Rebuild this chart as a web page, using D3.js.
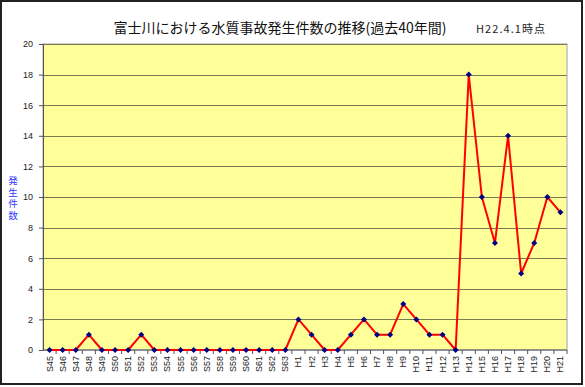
<!DOCTYPE html>
<html>
<head>
<meta charset="utf-8">
<script src="https://cdn.jsdelivr.net/npm/d3@7"></script>
<style>
  body { margin: 0; background: #fff; }
  svg { display: block; }
</style>
</head>
<body>
<script>
// categories: S45..S63, H1..H21 (40 years)
const years = [
  "S45","S46","S47","S48","S49","S50","S51","S52","S53","S54",
  "S55","S56","S57","S58","S59","S60","S61","S62","S63",
  "H1","H2","H3","H4","H5","H6","H7","H8","H9","H10",
  "H11","H12","H13","H14","H15","H16","H17","H18","H19","H20","H21"
];
const counts = [
  0,0,0,1,0,0,0,1,0,0,
  0,0,0,0,0,0,0,0,0,
  2,1,0,0,1,2,1,1,3,2,
  1,1,0,18,10,7,14,5,7,10,9
];
const yTicks = [0,2,4,6,8,10,12,14,16,18,20];
const yLabelChars = ["発","生","件","数"];

const dimensions = {
  width: 585,
  height: 387,
  margin: { top: 44, right: 18, bottom: 37, left: 43 },
};
dimensions.boundedWidth = dimensions.width - dimensions.margin.left - dimensions.margin.right;
dimensions.boundedHeight = dimensions.height - dimensions.margin.top - dimensions.margin.bottom;

const svg = d3.select("body").append("svg")
  .attr("width", dimensions.width)
  .attr("height", dimensions.height)
  .style("font-family", "'Liberation Sans', Arial, sans-serif");

// outer frame
svg.append("rect")
  .attr("x", 1).attr("y", 1)
  .attr("width", dimensions.width - 4).attr("height", dimensions.height - 4)
  .attr("fill", "#fff").attr("stroke", "#222").attr("stroke-width", 2);

const bounds = svg.append("g")
  .attr("transform", `translate(${dimensions.margin.left},${dimensions.margin.top})`);

const xScale = d3.scaleBand()
  .domain(years)
  .range([0, dimensions.boundedWidth]);

const yScale = d3.scaleLinear()
  .domain([0, 20])
  .range([dimensions.boundedHeight, 0]);

// plot area
bounds.append("rect")
  .attr("width", dimensions.boundedWidth)
  .attr("height", dimensions.boundedHeight)
  .attr("fill", "#ffff99")
  .attr("stroke", "#c0c0c0")
  .attr("stroke-width", 1.5);

// gridlines
bounds.append("g")
  .selectAll("line")
  .data(yTicks.filter(d => d > 0))
  .join("line")
  .attr("x1", 0).attr("x2", dimensions.boundedWidth)
  .attr("y1", d => Math.round(yScale(d)) + 0.5)
  .attr("y2", d => Math.round(yScale(d)) + 0.5)
  .attr("stroke", "#7a7a55")
  .attr("stroke-width", 1.2);

// y axis
const yAxis = bounds.append("g")
  .call(d3.axisLeft(yScale).tickValues(yTicks).tickSize(4).tickPadding(6));
yAxis.select(".domain").attr("stroke", "#555");
yAxis.selectAll(".tick line").attr("stroke", "#555");
yAxis.selectAll("text").attr("font-size", 9).attr("fill", "#222");

// x axis with ticks between categories
const xAxis = bounds.append("g")
  .attr("transform", `translate(0,${dimensions.boundedHeight})`);
xAxis.append("line")
  .attr("x1", 0).attr("x2", dimensions.boundedWidth)
  .attr("stroke", "#555");
xAxis.selectAll(".sep")
  .data(years)
  .join("line")
  .attr("class", "sep")
  .attr("x1", d => xScale(d) + xScale.bandwidth())
  .attr("x2", d => xScale(d) + xScale.bandwidth())
  .attr("y1", 0).attr("y2", 4)
  .attr("stroke", "#555");
xAxis.selectAll(".lbl")
  .data(years)
  .join("text")
  .attr("class", "lbl")
  .attr("transform", d => `translate(${xScale(d) + xScale.bandwidth() / 2 + 3},6) rotate(-90)`)
  .attr("text-anchor", "end")
  .attr("font-size", 9)
  .attr("fill", "#222")
  .text(d => d);

// line
const xPos = (d, i) => xScale(years[i]) + xScale.bandwidth() / 2;
const line = d3.line()
  .x(xPos)
  .y(d => yScale(d));

bounds.append("path")
  .datum(counts)
  .attr("d", line)
  .attr("fill", "none")
  .attr("stroke", "#ff0000")
  .attr("stroke-width", 2)
  .attr("stroke-linejoin", "round");

// markers
bounds.append("g")
  .selectAll("path")
  .data(counts)
  .join("path")
  .attr("transform", (d, i) => `translate(${xPos(d, i)},${yScale(d)})`)
  .attr("d", "M0,-3L3,0L0,3L-3,0Z")
  .attr("fill", "#000080");

// title
svg.append("text")
  .attr("x", 280).attr("y", 33)
  .attr("text-anchor", "middle")
  .attr("font-family", "'Noto Sans CJK JP', sans-serif")
  .attr("font-size", 14)
  .attr("fill", "#111")
  .text("富士川における水質事故発生件数の推移(過去40年間)");

svg.append("text")
  .attr("x", 476).attr("y", 33)
  .attr("font-family", "'Noto Sans CJK JP', sans-serif")
  .attr("font-size", 11)
  .attr("textLength", 69)
  .attr("lengthAdjust", "spacing")
  .attr("fill", "#222")
  .text("H22.4.1時点");

// y axis label, one upright character per line
svg.append("g")
  .selectAll("text")
  .data(yLabelChars)
  .join("text")
  .attr("x", 13)
  .attr("y", (d, i) => 184 + i * 11.5)
  .attr("text-anchor", "middle")
  .attr("font-family", "'Noto Sans CJK JP', sans-serif")
  .attr("font-size", 9.5)
  .attr("fill", "#3333ff")
  .text(d => d);
</script>
</body>
</html>
